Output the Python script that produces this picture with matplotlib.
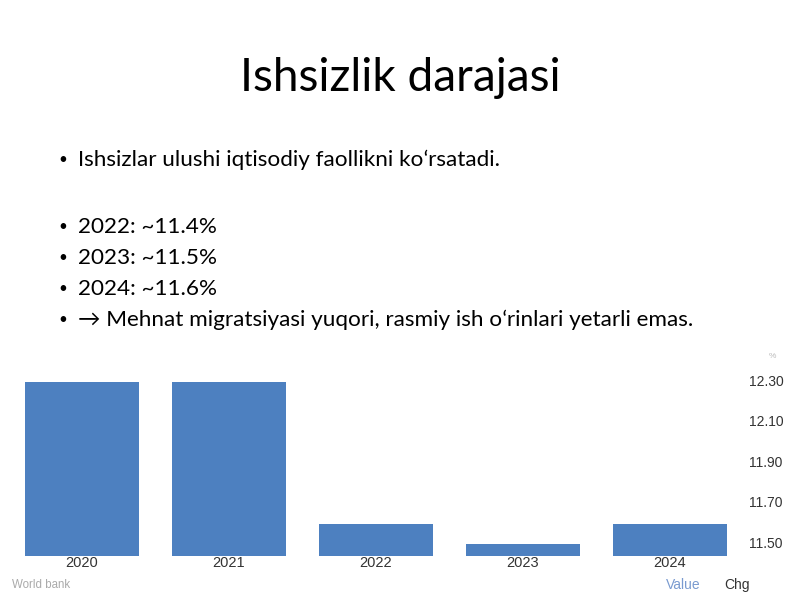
import matplotlib
matplotlib.use("Agg")
import matplotlib.pyplot as plt

# ── Data ─────────────────────────────────────────────
years = ["2020", "2021", "2022", "2023", "2024"]
values = [12.29, 12.29, 11.59, 11.49, 11.59]
y_ticks = [11.50, 11.70, 11.90, 12.10, 12.30]

title = "Ishsizlik darajasi"
bullets = [
    "Ishsizlar ulushi iqtisodiy faollikni koʻrsatadi.",
    "2022: ~11.4%",
    "2023: ~11.5%",
    "2024: ~11.6%",
    "→ Mehnat migratsiyasi yuqori, rasmiy ish oʻrinlari yetarli emas.",
]
bullet_y = [160, 227, 258, 289, 320]   # pixel rows on the slide

W, H = 800, 600
BAR_COLOR = "#4d80c0"

fig = plt.figure(figsize=(8, 6), dpi=100)
fig.patch.set_facecolor("white")

# ── Slide text ───────────────────────────────────────
fig.text(0.5, 1 - 78 / H, title, ha="center", va="center",
         fontsize=33, family="Lato", color="black")

for txt, py in zip(bullets, bullet_y):
    fig.text(63 / W, 1 - py / H, "•", ha="center", va="center",
             fontsize=11, family="Lato", color="black")
    fig.text(78 / W, 1 - py / H, txt, ha="left", va="center",
             fontsize=16.2, family="Lato", color="black")

# ── Bar chart ────────────────────────────────────────
ax = fig.add_axes([8.5 / W, 1 - 556 / H, 735 / W, (556 - 358) / H])
x = range(len(years))
bottom = 11.433
ax.bar(x, [v - bottom for v in values], bottom=bottom, width=0.776,
       color=BAR_COLOR, edgecolor="none")
ax.set_xlim(-0.5, 4.5)
ax.set_ylim(bottom, 12.41)

ax.yaxis.tick_right()
ax.set_yticks(y_ticks)
ax.set_yticklabels([f"{t:.2f}" for t in y_ticks], fontsize=10,
                   family="Liberation Sans", color="#333333")
ax.tick_params(axis="y", length=0, pad=4)
ax.set_xticks(list(x))
ax.set_xticklabels(years, fontsize=10.5, family="Liberation Sans",
                   color="#333333")
ax.tick_params(axis="x", length=0, pad=0)
for s in ax.spines.values():
    s.set_visible(False)

fig.text(772 / W, 1 - 356 / H, "%", ha="center", va="center",
         fontsize=6, color="#bbbbbb", family="Liberation Sans")
fig.text(12 / W, 1 - 585 / H, "World bank", ha="left", va="center",
         fontsize=8.3, color="#aaaaaa", family="Liberation Sans")
fig.text(683 / W, 1 - 585 / H, "Value", ha="center", va="center",
         fontsize=10, color="#7a9bd0", family="Liberation Sans")
fig.text(737 / W, 1 - 585 / H, "Chg", ha="center", va="center",
         fontsize=10, color="#333333", family="Liberation Sans")

fig.savefig("out.png", dpi=100)
